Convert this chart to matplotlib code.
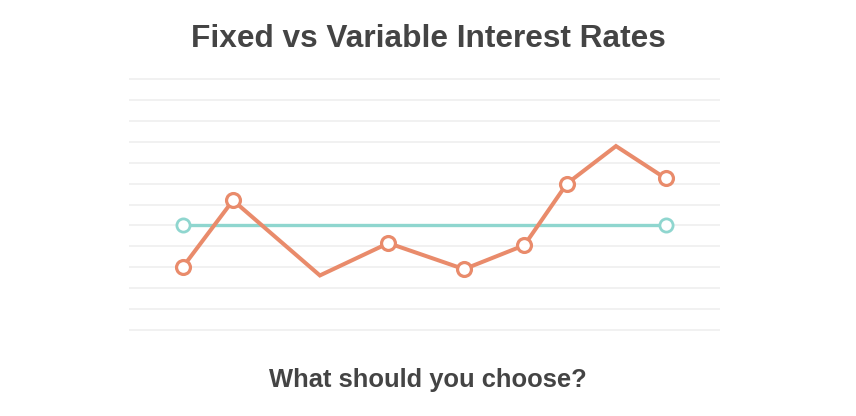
import matplotlib.pyplot as plt
import numpy as np

# valores (escala de 0 a 100 en x, 0 a 12 en y)
x_variable = [9.1, 17.6, 32.3, 43.9, 56.7, 66.9, 74.1, 82.4, 90.8]
y_variable = [3.0, 6.2, 2.6, 4.15, 2.9, 4.05, 7.0, 8.8, 7.25]
x_fijo = [9.1, 90.8]
y_fijo = [5.0, 5.0]
marcas_variable = [0, 1, 3, 4, 5, 6, 8]

titulo = 'Fixed vs Variable Interest Rates'
subtitulo = 'What should you choose?'

naranja = '#E98B6B'
turquesa = '#8FD6CF'

fig = plt.figure(figsize=(8.56, 4.16), dpi=100)
ax = fig.add_axes([0.1507, 0.1924, 0.6904, 0.632])

ax.plot(x_fijo, y_fijo, color=turquesa, lw=2.4, marker='o', ms=9.5,
        mfc='white', mec=turquesa, mew=2.0, zorder=3)
ax.plot(x_variable, y_variable, color=naranja, lw=2.9, marker='o', ms=10,
        mfc='white', mec=naranja, mew=2.3, markevery=marcas_variable,
        zorder=4, solid_joinstyle='miter')

ax.set_xlim(0, 100)
ax.set_ylim(-0.3, 12.3)
ax.set_yticks(np.arange(0, 13))
ax.set_xticks([])
ax.grid(axis='y', color='#EFEFEF', lw=1.2)
ax.tick_params(left=False, labelleft=False)
for s in ax.spines.values():
    s.set_visible(False)

fig.text(0.5, 0.906, titulo, ha='center', va='center', fontsize=22.8,
         fontweight='bold', color='#444444', family='Liberation Sans')
fig.text(0.5, 0.086, subtitulo, ha='center', va='center', fontsize=18.4,
         fontweight='bold', color='#444444', family='Liberation Sans')

fig.savefig('out.png', dpi=100, facecolor='white')
